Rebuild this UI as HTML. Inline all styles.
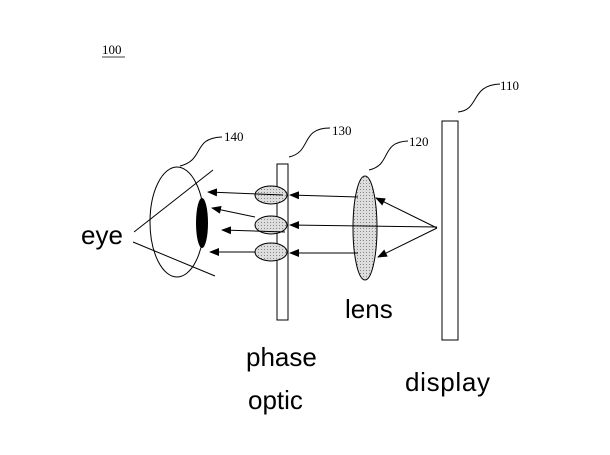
<!DOCTYPE html>
<html><head><style>body{margin:0;background:#fff}svg{display:block}</style></head><body>
<svg width="610" height="455" viewBox="0 0 610 455" xmlns="http://www.w3.org/2000/svg">
<defs>
<pattern id="dot" width="3" height="3" patternUnits="userSpaceOnUse"><rect width="3" height="3" fill="#ddd"/><rect width="1" height="1" fill="#888"/></pattern>
<marker id="a" markerWidth="10" markerHeight="8" refX="9" refY="4" orient="auto" markerUnits="userSpaceOnUse"><path d="M0,0 L10,4 L0,8 z" fill="#000"/></marker>
</defs>
<g font-family="Liberation Serif, serif" font-size="13" fill="#000">
<text x="102" y="54">100</text>
<line x1="102" y1="57" x2="125" y2="57" stroke="#000" stroke-width="0.8"/>
<text x="500" y="90">110</text>
<text x="332" y="135">130</text>
<text x="224" y="141">140</text>
<text x="409" y="146">120</text>
</g>
<g fill="none" stroke="#000" stroke-width="1">
<path d="M458,112 C480,110 470,85 500,84"/>
<path d="M289,157 C312,152 300,128 330,128"/>
<path d="M180,166 C205,160 192,138 222,137"/>
<path d="M369,170 C392,165 380,142 408,141"/>
<rect x="442" y="121" width="16" height="219" fill="#fff"/>
<rect x="277" y="164" width="11" height="156" fill="#fff"/>
<ellipse cx="177" cy="222" rx="27" ry="55"/>
<line x1="134" y1="232" x2="213" y2="170"/>
<line x1="133" y1="242" x2="215" y2="276"/>
</g>
<ellipse cx="202" cy="223" rx="6" ry="25" fill="#000"/>
<g stroke="#000" stroke-width="1" fill="url(#dot)">
<ellipse cx="271" cy="195" rx="16" ry="9"/>
<ellipse cx="271" cy="225" rx="16" ry="9"/>
<ellipse cx="271" cy="252" rx="16" ry="9"/>
<ellipse cx="365" cy="228" rx="12" ry="52"/>
</g>
<g stroke="#000" stroke-width="1" fill="none" marker-end="url(#a)">
<line x1="437" y1="228" x2="376" y2="198"/>
<line x1="437" y1="228" x2="378" y2="257"/>
<line x1="437" y1="227" x2="290" y2="225"/>
<line x1="358" y1="197" x2="290" y2="195"/>
<line x1="358" y1="253" x2="290" y2="253"/>
<line x1="283" y1="195" x2="208" y2="192"/>
<line x1="255" y1="217" x2="212" y2="208"/>
<line x1="285" y1="232" x2="222" y2="230"/>
<line x1="255" y1="252" x2="210" y2="252"/>
</g>
<g font-family="Liberation Sans, sans-serif" font-size="26" fill="#000">
<text x="81" y="244">eye</text>
<text x="345" y="318">lens</text>
<text x="246" y="366">phase</text>
<text x="248" y="409">optic</text>
<text x="405" y="391" textLength="85">display</text>
</g>
</svg>
</body></html>
